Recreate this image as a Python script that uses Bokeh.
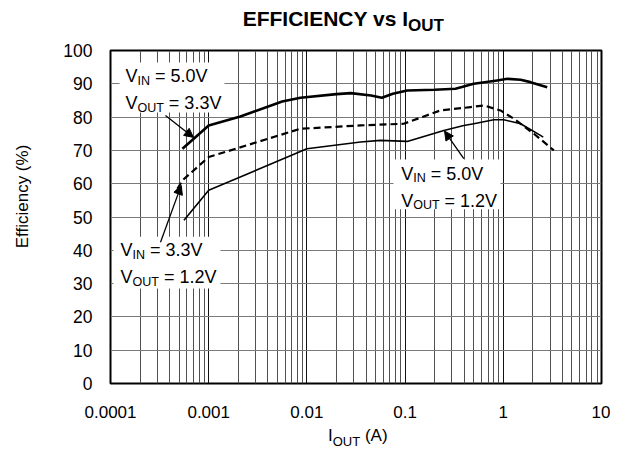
import numpy as np
from bokeh.plotting import figure
from bokeh.layouts import row, column
from bokeh.models import Range1d, FixedTicker, Label, Arrow, NormalHead, Div
from bokeh.embed import file_html
from bokeh.resources import INLINE

# ---------------- data ----------------
# VIN = 5.0 V, VOUT = 3.3 V  (thick solid)
iout_50_33 = [0.00054, 0.001, 0.0021, 0.0056, 0.0086, 0.02, 0.028, 0.045, 0.058, 0.075, 0.105,
              0.2, 0.326, 0.5, 0.867, 1.1, 1.5, 1.89, 2.8]
eff_50_33 = [70.5, 77.5, 80.2, 84.7, 85.8, 86.9, 87.2, 86.5, 85.8, 87.0, 88.0,
             88.2, 88.5, 90.0, 91.0, 91.5, 91.2, 90.5, 89.0]

# VIN = 3.3 V, VOUT = 1.2 V  (dashed)
iout_33_12 = [0.00048, 0.00054, 0.001, 0.0086, 0.0352, 0.097, 0.155, 0.229, 0.463, 0.633,
              0.936, 1.28, 2.05, 3.27]
eff_33_12 = [58.5, 61.0, 68.0, 76.5, 77.5, 78.0, 80.2, 82.0, 83.0, 83.5,
             82.0, 79.5, 75.0, 70.0]

# VIN = 5.0 V, VOUT = 1.2 V  (thin solid)
iout_50_12 = [0.00056, 0.001, 0.01, 0.0352, 0.056, 0.105, 0.248, 0.396, 0.501, 0.80,
              1.01, 1.50, 2.39, 2.55]
eff_50_12 = [49.0, 58.0, 70.5, 72.5, 73.0, 72.7, 76.0, 77.5, 78.0, 79.2,
             79.2, 78.0, 74.5, 74.0]

y_ticks = [0, 10, 20, 30, 40, 50, 60, 70, 80, 90, 100]
x_ticks = [0.0001, 0.001, 0.01, 0.1, 1, 10]
x_tick_labels = ["0.0001", "0.001", "0.01", "0.1", "1", "10"]

# ---------------- layout constants (pixels) ----------------
CANVAS_W, CANVAS_H = 610, 444
FRAME_L, FRAME_T, FRAME_W, FRAME_H = 110, 50, 491, 333
LEFT_W, TOP_H = 60, 36
MAIN_BOTTOM = 44
COL_W = CANVAS_W - LEFT_W
MAIN_H = (FRAME_T - TOP_H) + FRAME_H + MAIN_BOTTOM
BOT_H = CANVAS_H - TOP_H - MAIN_H

FONT = "Liberation Sans"
ASC, DESC = 0.905, 0.212
W = {'V': .667, 'I': .278, 'N': .722, 'O': .778, 'U': .722, 'T': .611, ' ': .278,
     '=': .584, '.': .278, '(': .333, ')': .333, 'A': .667}
for d in "0123456789":
    W[d] = .556


def tw(s, size):
    return sum(W.get(c, .556) for c in s) * size


def sub_text(p, x, y, main, sub, rest, size, subsize, sub_drop, y_off=0.0):
    off = 0.0
    for txt, sz, dy in [(main, size, 0.0), (sub, subsize, -sub_drop), (rest, size, 0.0)]:
        lead = len(txt) - len(txt.lstrip(" "))
        off += lead * W[' '] * sz
        txt_s = txt.strip(" ")
        if txt_s:
            p.add_layout(Label(x=x, y=y, x_offset=off, y_offset=y_off + dy, text=txt_s,
                               text_font=FONT, text_font_size=f"{sz}px",
                               text_color="black", text_baseline="alphabetic",
                               text_align="left"))
        off += tw(txt_s, sz)


def html_sub_line(left, baseline, main, sub, rest, size, subsize, drop, bold, w, h):
    top = max(0.0, baseline - ((size - size * (ASC + DESC)) / 2 + size * ASC))
    weight = "bold" if bold else "normal"
    return (f'<div style="position:relative;width:{w}px;height:{h}px;overflow:visible;'
            f'margin:0;padding:0;">'
            f'<span style="position:absolute;left:{left:.1f}px;top:{top:.2f}px;'
            f"font-family:'{FONT}';font-weight:{weight};font-size:{size}px;"
            f'line-height:{size}px;white-space:nowrap;color:black;">{main}'
            f'<span style="font-size:{subsize}px;position:relative;top:{drop}px;">{sub}</span>'
            f'{rest}</span></div>')


# ---------------- main plot ----------------
p = figure(width=COL_W, height=MAIN_H, x_axis_type="log",
           x_range=Range1d(1e-4, 10), y_range=Range1d(0, 100),
           output_backend="svg", toolbar_location=None,
           min_border_left=FRAME_L - LEFT_W, min_border_right=CANVAS_W - FRAME_L - FRAME_W,
           min_border_top=FRAME_T - TOP_H, min_border_bottom=MAIN_BOTTOM)
p.title.visible = False
p.background_fill_color = "white"
p.border_fill_color = "white"
p.outline_line_color = "black"
p.outline_line_width = 2

for ax in (p.xaxis, p.yaxis):
    ax.axis_line_color = None
    ax.major_tick_line_color = None
    ax.minor_tick_line_color = None
    ax.major_tick_in = 0
    ax.major_tick_out = 0
    ax.minor_tick_in = 0
    ax.minor_tick_out = 0
    ax.major_label_text_font = FONT
    ax.major_label_text_color = "black"

p.yaxis.ticker = FixedTicker(ticks=y_ticks)
p.yaxis.major_label_standoff = 18
p.yaxis.major_label_text_font_size = "17.5px"

p.xaxis.ticker = FixedTicker(ticks=x_ticks, minor_ticks=[])
p.xaxis.major_label_overrides = dict(zip(x_ticks, x_tick_labels))
p.xaxis.major_label_standoff = 22
p.xaxis.major_label_text_font_size = "17px"

minors = [m * d for d in x_ticks[:-1] for m in range(2, 10)]
p.xgrid.ticker = FixedTicker(ticks=x_ticks, minor_ticks=minors)
p.xgrid.grid_line_color = "#111111"
p.xgrid.grid_line_width = 1
p.xgrid.minor_grid_line_color = "#505050"
p.xgrid.minor_grid_line_width = 1
p.ygrid.ticker = FixedTicker(ticks=y_ticks)
p.ygrid.grid_line_color = "#7a7a7a"
p.ygrid.grid_line_width = 1

# white boxes behind the curve labels (left, right, bottom, top in data units)
BOXES = [(1.235e-4, 1.449e-3, 81.4, 96.4),
         (0.0762, 0.936, 52.3, 67.3),
         (1.073e-4, 1.318e-3, 28.5, 44.1)]
p.quad(left=[b[0] for b in BOXES], right=[b[1] for b in BOXES],
       bottom=[b[2] for b in BOXES], top=[b[3] for b in BOXES],
       fill_color="white", line_color=None)

p.line(iout_50_33, eff_50_33, line_color="black", line_width=2.6, line_join="round")
p.line(iout_33_12, eff_33_12, line_color="black", line_width=2.2, line_dash="7 4",
       line_join="round")
p.line(iout_50_12, eff_50_12, line_color="black", line_width=1.6, line_join="round")

MAIN, SUB, DROP, LEAD, RAISE = 18, 12.5, 4.7, 26.8, 3.5
ANN = [(1.42e-4, 91.2, ("V", "IN", " = 5.0V"), ("V", "OUT", " = 3.3V")),
       (0.0912, 61.95, ("V", "IN", " = 5.0V"), ("V", "OUT", " = 1.2V")),
       (1.264e-4, 38.95, ("V", "IN", " = 3.3V"), ("V", "OUT", " = 1.2V"))]
for ax_, ay, l1, l2 in ANN:
    sub_text(p, ax_, ay, *l1, MAIN, SUB, DROP, y_off=RAISE)
    sub_text(p, ax_, ay, *l2, MAIN, SUB, DROP, y_off=RAISE - LEAD)

ARROWS = [(3.63e-4, 80.5, 7.0e-4, 73.9),
          (0.396, 67.5, 0.252, 75.8),
          (3.23e-4, 42.4, 5.25e-4, 59.5)]
for xs, ys, xe, ye in ARROWS:
    p.add_layout(Arrow(end=NormalHead(size=9, fill_color="black", line_color="black",
                                      line_width=1),
                       x_start=xs, y_start=ys, x_end=xe, y_end=ye,
                       line_color="black", line_width=1.3))

# ---------------- title and x-axis title (HTML text with subscripts) ----------------
title_div = Div(text=html_sub_line(242.7 - LEFT_W, 26.2, "EFFICIENCY vs I", "OUT", "",
                                   21, 17, 4.5, True, COL_W, TOP_H),
                width=COL_W, height=TOP_H, margin=(0, 0, 0, 0))
xlab_div = Div(text=html_sub_line(328 - LEFT_W, 441.4 - TOP_H - MAIN_H, "I", "OUT", " (A)",
                                  17, 13, 4.5, False, COL_W, BOT_H),
               width=COL_W, height=BOT_H, margin=(0, 0, 0, 0))

# ---------------- y title strip ----------------
left = figure(width=LEFT_W, height=CANVAS_H, output_backend="svg", toolbar_location=None,
              min_border=0, x_range=Range1d(0, 1), y_range=Range1d(0, 1))
left.title.visible = False
left.axis.visible = False
left.grid.visible = False
left.outline_line_color = None
left.add_layout(Label(x=22, y=CANVAS_H - 196, x_units="screen", y_units="screen",
                      angle=np.pi / 2, text="Efficiency (%)", text_font=FONT,
                      text_font_size="17px", text_color="black", text_align="center",
                      text_baseline="middle"))

layout = row(left, column(title_div, p, xlab_div, spacing=0), spacing=0)
open("out.html", "w").write(file_html(layout, INLINE))
